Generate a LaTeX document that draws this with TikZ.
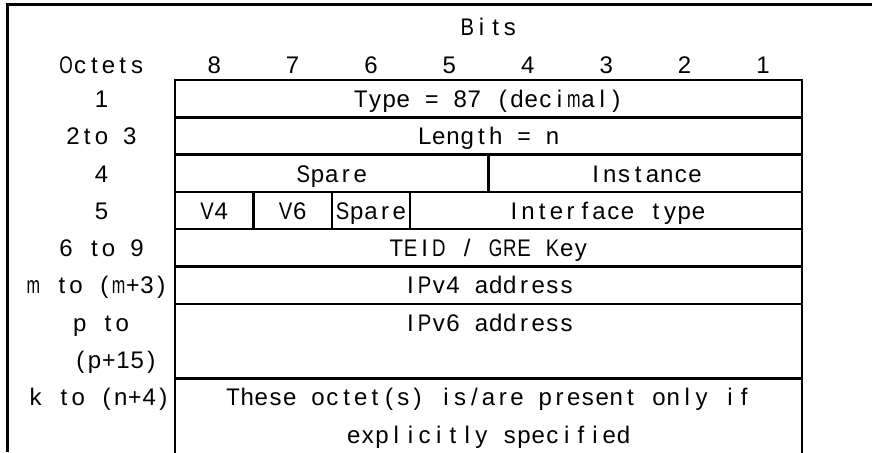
\documentclass[tikz,border=0pt]{standalone}
\usepackage{fontspec}
\setmainfont{Liberation Sans}

% every character sits in a cell of the same width,
% wide letters are squeezed to fit it
\newlength{\cellw}
\setlength{\cellw}{7.1pt}
\ExplSyntaxOn
\box_new:N \l_mono_cell_box
\cs_new_protected:Npn \mono_cell:n #1
  {
    \hbox_set:Nn \l_mono_cell_box {#1}
    \dim_compare:nNnT { \box_wd:N \l_mono_cell_box } > { 0.95\cellw }
      {
        \box_scale:Nnn \l_mono_cell_box
          { \dim_to_fp:n { 0.95\cellw } / \dim_to_fp:n { \box_wd:N \l_mono_cell_box } }
          { 1 }
      }
    \makebox[\cellw]{ \box_use:N \l_mono_cell_box }
  }
\NewDocumentCommand \monotext { m }
  { \exp_args:Ne \str_map_inline:nn {#1} { \mono_cell:n {##1} } }
\ExplSyntaxOff

\tikzset{
  frameline/.style={line width=1.5pt},
  tableline/.style={line width=1.2pt},
  cell/.style={inner sep=0pt, outer sep=0pt, text height=8.8pt, text depth=0pt,
    font=\fontsize{12pt}{14pt}\selectfont},
  field/.style={cell, draw, tableline, anchor=north west, minimum height=18.65pt},
  bits/.style={minimum width=#1*39.2pt},
}

\begin{document}
\begin{tikzpicture}[x=39.2pt, y=-18.65pt]
  \useasboundingbox (-2.232,-2.145) rectangle (8.890,9.973);
  % open frame
  \coordinate (frameNE) at (8.890,-2.02);
  \coordinate (frameNW) at (-2.13,-2.02);
  \coordinate (frameSW) at (-2.13,9.973);
  \draw[frameline] (frameNE) -- (frameNW) -- (frameSW);

  % header
  \node[cell] (bitsHead) at (4,-1.421) {\monotext{Bits}};
  \node[cell] (octHead) at (-0.937,-0.4) {\monotext{Octets}};
  \foreach \b in {1,...,8}
    \node[cell] (bit\b) at (8.5-\b,-0.4) {\b};

  % fields
  \node[field, bits=8] (type) at (0,0) {\monotext{Type = 87 (decimal)}};
  \node[field, bits=8] (length) at (0,1) {\monotext{Length = n}};
  \node[field, bits=4] (spare) at (0,2) {\monotext{Spare}};
  \node[field, bits=4] (instance) at (4,2) {\monotext{Instance}};
  \node[field, bits=1] (vfour) at (0,3) {\monotext{V4}};
  \node[field, bits=1] (vsix) at (1,3) {\monotext{V6}};
  \node[field, bits=1] (spareBit) at (2,3) {\monotext{Spare}};
  \node[field, bits=5] (iftype) at (3,3) {\monotext{Interface type}};
  \node[field, bits=8] (teid) at (0,4) {\monotext{TEID / GRE Key}};
  \node[field, bits=8] (ipvfour) at (0,5) {\monotext{IPv4 address}};
  \node[field, bits=8, minimum height=37.3pt] (ipvsix) at (0,6) {};
  \node[cell] (ipvsixText) at (4,6.5) {\monotext{IPv6 address}};
  \node[field, bits=8, minimum height=37.3pt, draw=none] (extra) at (0,8) {};
  \draw[tableline] (extra.south west) -- (extra.north west)
    -- (extra.north east) -- (extra.south east);
  \node[cell] (extraLineA) at (4,8.5) {\monotext{These octet(s) is/are present only if}};
  \node[cell] (extraLineB) at (4,9.5) {\monotext{explicitly specified}};

  % octet numbers
  \node[cell] (octA) at (-0.937,0.5) {\monotext{1}};
  \node[cell] (octB) at (-0.937,1.5) {\monotext{2to 3}};
  \node[cell] (octC) at (-0.937,2.5) {\monotext{4}};
  \node[cell] (octD) at (-0.937,3.5) {\monotext{5}};
  \node[cell] (octE) at (-0.937,4.5) {\monotext{6 to 9}};
  \node[cell] (octF) at (-0.99,5.5) {\monotext{m to (m+3)}};
  \node[cell] (octG) at (-0.944,6.5) {\monotext{p to}};
  \node[cell] (octGb) at (-0.753,7.5) {\monotext{(p+15)}};
  \node[cell] (octH) at (-0.963,8.5) {\monotext{k to (n+4)}};
\end{tikzpicture}
\end{document}
